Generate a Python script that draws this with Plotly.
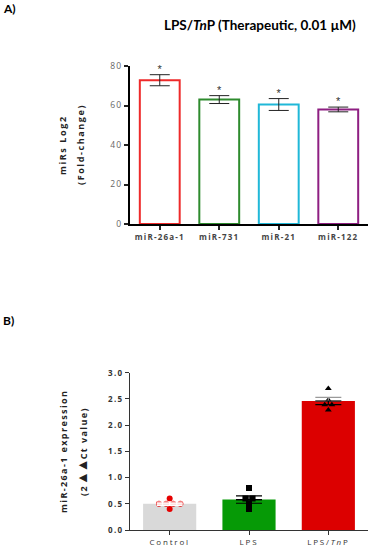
import plotly.graph_objects as go

# ---------------- Panel A data ----------------
mirs = ["miR-26a-1", "miR-731", "miR-21", "miR-122"]
fold_log2 = [72.8, 63.0, 60.5, 58.0]
fold_sem = [2.8, 2.0, 3.0, 1.2]
mir_colors = ["#ee2a2a", "#2e8b2e", "#20b8d8", "#8e1f82"]
mir_sig = ["*", "*", "*", "*"]
yticks_a = [0, 20, 40, 60, 80]

# ---------------- Panel B data ----------------
groups = ["Control", "LPS", "LPS/<i>Tn</i>P"]
expr_mean = [0.50, 0.58, 2.46]
expr_sem = [0.03, 0.07, 0.07]
control_pts = [0.6, 0.5, 0.5, 0.5, 0.5, 0.4]
lps_pts = [0.8, 0.6, 0.6, 0.5, 0.4]
tnp_pts = [2.70, 2.48, 2.39, 2.39, 2.29]
group_colors = ["#d9d9d9", "#069a06", "#dc0000"]
group_sig = ["", "", "*"]
yticks_b = [0.0, 0.5, 1.0, 1.5, 2.0, 2.5, 3.0]

W, H = 369, 550


def px_x(p):
    return p / W


def px_y(p):
    return 1 - p / H


def spaced(s, ls=1.0):
    return f'<span style="letter-spacing:{ls}px">{s}</span>'


def swarm(values, center, step=0.09):
    """Spread equal values horizontally (simple beeswarm)."""
    xs = []
    counts = {}
    for v in values:
        counts[v] = counts.get(v, 0) + 1
    seen = {}
    for v in values:
        n = counts[v]
        i = seen.get(v, 0)
        seen[v] = i + 1
        xs.append(center + (i - (n - 1) / 2) * step)
    return xs


fig = go.Figure()

# Panel A bars
fig.add_trace(go.Bar(
    x=mirs, y=fold_log2,
    marker=dict(color="white", line=dict(color=mir_colors, width=2)),
    error_y=dict(type="data", array=fold_sem, color="#222", thickness=1, width=10),
    xaxis="x", yaxis="y", showlegend=False,
))
fig.add_trace(go.Scatter(
    x=mirs, y=[m + s + 2.2 for m, s in zip(fold_log2, fold_sem)],
    mode="text", text=mir_sig, textfont=dict(size=11, color="#333", family="Arial"),
    xaxis="x", yaxis="y", showlegend=False, cliponaxis=False,
))

# Panel B bars
fig.add_trace(go.Bar(
    x=[0, 1, 2], y=expr_mean,
    marker=dict(color=group_colors, line=dict(width=0)),
    xaxis="x2", yaxis="y2", showlegend=False,
))
# individual points
fig.add_trace(go.Scatter(
    x=swarm(control_pts, 0), y=control_pts, mode="markers",
    marker=dict(symbol="circle", size=6, color="#e60000"),
    xaxis="x2", yaxis="y2", showlegend=False,
))
fig.add_trace(go.Scatter(
    x=swarm(lps_pts, 1), y=lps_pts, mode="markers",
    marker=dict(symbol="square", size=6, color="black"),
    xaxis="x2", yaxis="y2", showlegend=False,
))
fig.add_trace(go.Scatter(
    x=swarm(tnp_pts, 2), y=tnp_pts, mode="markers",
    marker=dict(symbol="triangle-up", size=6, color="black"),
    xaxis="x2", yaxis="y2", showlegend=False,
))
# error bars (drawn above the points)
err_up_colors = ["white", "black", "#9a9a9a"]
err_dn_colors = ["white", "black", "black"]
for i in range(3):
    fig.add_trace(go.Scatter(
        x=[i], y=[expr_mean[i]], mode="markers", marker=dict(size=0.1, opacity=0),
        error_y=dict(type="data", symmetric=False, array=[expr_sem[i]], arrayminus=[0],
                     color=err_up_colors[i], thickness=1.2, width=13),
        xaxis="x2", yaxis="y2", showlegend=False, hoverinfo="skip",
    ))
    fig.add_trace(go.Scatter(
        x=[i], y=[expr_mean[i]], mode="markers", marker=dict(size=0.1, opacity=0),
        error_y=dict(type="data", symmetric=False, array=[0], arrayminus=[expr_sem[i]],
                     color=err_dn_colors[i], thickness=1.2, width=13),
        xaxis="x2", yaxis="y2", showlegend=False, hoverinfo="skip",
    ))
fig.add_trace(go.Scatter(
    x=[0, 1, 2], y=[3.35, 3.35, 3.35], mode="text", text=group_sig,
    textfont=dict(size=10, color="#555", family="Arial"),
    xaxis="x2", yaxis="y2", showlegend=False, cliponaxis=False,
))

fig.update_layout(
    width=W, height=H,
    margin=dict(l=0, r=0, t=0, b=0, pad=0, autoexpand=False),
    paper_bgcolor="white", plot_bgcolor="white",
    bargap=0.33,
    xaxis=dict(domain=[px_x(130), px_x(368)], anchor="y", range=[-0.5, 3.5],
               tickvals=mirs, ticktext=[spaced(m, 1.2) for m in mirs], automargin=False,
               showline=True, linewidth=2, linecolor="black",
               ticks="outside", ticklen=4, tickwidth=1.5, tickcolor="#222",
               tickfont=dict(family="Open Sans", size=8, color="#444", weight="bold"),
               showgrid=False, zeroline=False),
    yaxis=dict(domain=[px_y(224), px_y(66)], anchor="x", range=[0, 80], automargin=False,
               tickvals=yticks_a, ticktext=[spaced(str(v), 1.2) for v in yticks_a],
               showline=True, linewidth=2, linecolor="black",
               ticks="outside", ticklen=4, tickwidth=1.5, tickcolor="#222",
               tickfont=dict(family="Open Sans", size=8.5, color="#666"),
               showgrid=False, zeroline=False),
    xaxis2=dict(domain=[px_x(130), px_x(368)], anchor="y2", range=[-0.5, 2.5], automargin=False,
                tickvals=[0, 1, 2], ticktext=[spaced(g, 1.8) for g in groups],
                showline=True, linewidth=1.2, linecolor="#333",
                ticks="outside", ticklen=4, tickwidth=1, tickcolor="#333",
                tickfont=dict(family="Open Sans", size=8, color="#333"),
                showgrid=False, zeroline=False),
    yaxis2=dict(domain=[px_y(530), px_y(372.7)], anchor="x2", range=[0, 3], automargin=False,
                tickvals=yticks_b, ticktext=[spaced(f"{v:.1f}", 1.3) for v in yticks_b],
                showline=True, linewidth=1, linecolor="#333",
                ticks="outside", ticklen=4, tickwidth=1, tickcolor="#333",
                tickfont=dict(family="Open Sans", size=8, color="#333", weight="bold"),
                showgrid=False, zeroline=False),
    annotations=[
        dict(text="<b>A)</b>", x=px_x(1), y=px_y(9), xref="paper", yref="paper",
             xanchor="left", yanchor="middle", showarrow=False,
             font=dict(family="Lato", size=12, color="black")),
        dict(text="<b>LPS/<i>Tn</i>P (Therapeutic, 0.01 µM)</b>", x=px_x(260), y=px_y(25),
             xref="paper", yref="paper", xanchor="center", yanchor="middle",
             showarrow=False, font=dict(family="Lato", size=13.5, color="black")),
        dict(text="<b>" + spaced("miRs Log2", 1.6) + "</b>", x=px_x(62), y=px_y(145),
             xref="paper", yref="paper",
             textangle=-90, xanchor="center", yanchor="middle", showarrow=False,
             font=dict(family="Open Sans", size=9, color="#222")),
        dict(text="<b>" + spaced("(Fold-change)", 1.6) + "</b>", x=px_x(80), y=px_y(145),
             xref="paper", yref="paper",
             textangle=-90, xanchor="center", yanchor="middle", showarrow=False,
             font=dict(family="Open Sans", size=9, color="#222")),
        dict(text="<b>B)</b>", x=px_x(1), y=px_y(320), xref="paper", yref="paper",
             xanchor="left", yanchor="middle", showarrow=False,
             font=dict(family="Lato", size=12, color="black")),
        dict(text="<b>" + spaced("miR-26a-1 expression", 1.4) + "</b>", x=px_x(63), y=px_y(452),
             xref="paper", yref="paper",
             textangle=-90, xanchor="center", yanchor="middle", showarrow=False,
             font=dict(family="Open Sans", size=9, color="#222")),
        dict(text="<b>" + spaced("(2", 1.4)
             + '<span style="font-size:14px;letter-spacing:-1px">▲▲</span>'
             + spaced("Ct value)", 1.4) + "</b>",
             x=px_x(81), y=px_y(452),
             xref="paper", yref="paper",
             textangle=-90, xanchor="center", yanchor="middle", showarrow=False,
             font=dict(family="Open Sans", size=9, color="#222")),
    ],
)

post = (
    "document.documentElement.style.margin='0';"
    "document.documentElement.style.overflow='hidden';"
    "document.body.style.margin='0';"
    "document.body.style.overflow='hidden';"
    "var d=document.querySelector('.plotly-graph-div');"
    "if(d){d.style.position='fixed';d.style.left='0px';d.style.top='0px';}"
)
fig.write_html("out.html", config={"displayModeBar": False}, post_script=post)
